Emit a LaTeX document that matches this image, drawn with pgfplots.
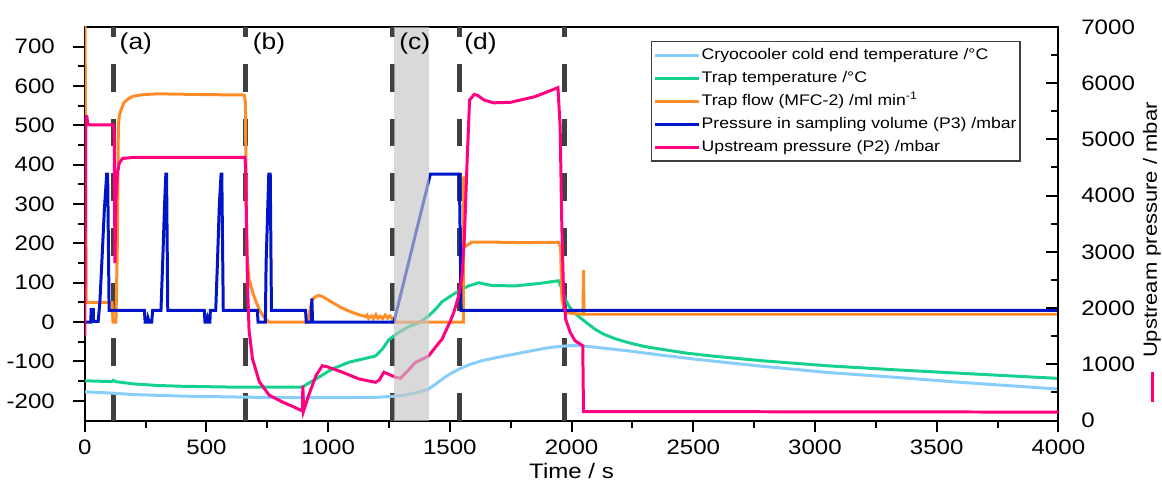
\documentclass[border=0pt]{standalone}
\usepackage{fontspec}
\setmainfont{Liberation Sans}[FakeStretch=1.15]
\usepackage{pgfplots}
\pgfplotsset{compat=1.18}

\definecolor{cCryo}{RGB}{135,206,250}
\definecolor{cTrap}{RGB}{20,210,140}
\definecolor{cFlow}{RGB}{255,140,40}
\definecolor{cPthree}{RGB}{0,20,200}
\definecolor{cPtwo}{RGB}{255,0,128}
\definecolor{cDash}{RGB}{64,64,64}
\definecolor{cBand}{RGB}{197,197,197}

\tikzset{lab/.style={anchor=north west, inner sep=0pt, font=\fontsize{11.5}{14}\selectfont}}

\begin{document}
\begin{tikzpicture}
\pgfplotsset{
  every axis/.append style={
    width=488.5pt, height=197.5pt, scale only axis,
    xmin=0, xmax=4000,
    /pgf/number format/assume math mode=true,
    /pgf/number format/set thousands separator={},
    tick label style={font=\fontsize{10.5}{12}\selectfont},
    label style={font=\fontsize{10.5}{13}\selectfont},
    axis line style={line width=1pt},
    every tick/.style={black, line width=1pt},
    major tick length=6pt, minor tick length=3.5pt,
  },
  dline/.style={cDash, line width=2.5pt, dash pattern=on 14pt off 13.5pt, forget plot},
}
% left axis: temperatures, flow, P3
\begin{axis}[
  ymin=-250, ymax=750,
  xtick={0,500,...,4000}, minor xtick={250,750,...,3750},
  ytick={-200,-100,...,700}, minor ytick={-150,-50,...,650},
  xtick pos=bottom, ytick pos=left, tick align=outside,
  yticklabel style={xshift=-5.5pt},
  xlabel={Time / s},
  xlabel style={at={(axis description cs:0.5,-0.129)}, anchor=center},
]
\coordinate (tl) at (rel axis cs:0,1);
\coordinate (br) at (rel axis cs:1,0);
\addplot[dline] coordinates {(117,-250) (117,750)};
\addplot[dline] coordinates {(659,-250) (659,750)};
\addplot[dline] coordinates {(1263,-250) (1263,750)};
\addplot[dline] coordinates {(1538,-250) (1538,750)};
\addplot[dline] coordinates {(1970,-250) (1970,750)};

% cryocooler cold end temperature
\addplot[cCryo, line width=1.5pt] coordinates {
(0,-177) (100,-180) (200,-184) (400,-188) (600,-190) (800,-192) (1000,-192)
(1200,-191) (1277,-188) (1320,-185) (1358,-180) (1413,-170) (1440,-158)
(1468,-145) (1500,-132) (1536,-120) (1580,-108) (1632,-98) (1700,-89)
(1768,-81) (1850,-71) (1906,-65) (1950,-62) (1988,-60) (2042,-60)
(2100,-64) (2233,-73) (2370,-84) (2506,-94) (2780,-112) (3053,-128)
(3326,-140) (3600,-153) (4000,-170)};

% trap temperature
\addplot[cTrap, line width=1.5pt] coordinates {
(0,-149) (50,-150) (110,-151) (118,-148) (125,-151) (200,-157) (300,-161)
(400,-163) (500,-164) (600,-165) (700,-165) (800,-165) (894,-165) (920,-155)
(948,-145) (1017,-119) (1085,-102) (1140,-94) (1195,-86) (1222,-69)
(1249,-45) (1290,-26) (1330,-12) (1372,-2) (1413,16) (1440,32) (1468,52)
(1500,65) (1536,79) (1577,92) (1618,100) (1640,97) (1673,93) (1768,92)
(1864,98) (1946,105) (1960,85) (1973,60) (1990,40) (2014,22) (2050,4)
(2096,-18) (2130,-30) (2178,-42) (2233,-52) (2300,-62) (2370,-69)
(2475,-79) (2575,-86) (2780,-98) (3053,-111) (3326,-121) (3600,-130)
(4000,-143)};

% trap flow (MFC-2)
\addplot[cFlow, line width=1.5pt] coordinates {
(1,800) (6,50) (112,50) (116,0) (128,0) (134,200) (138,500) (142,525)
(150,540) (160,557) (180,568) (200,574) (240,578) (300,580) (400,579)
(500,578) (655,577) (660,560) (664,250) (668,160) (675,110) (690,75)
(705,50) (716,33) (730,18) (742,8) (757,0) (914,0) (925,30) (935,58)
(950,65) (962,68) (980,64) (1017,50) (1050,38) (1085,28) (1120,20)
(1153,14) (1160,18) (1166,10) (1178,16) (1186,9) (1196,19) (1204,10)
(1214,15) (1224,9) (1234,18) (1244,10) (1254,16) (1263,10) (1265,0)
(1555,0) (1557,370) (1559,190) (1570,195) (1590,203) (1700,203)
(1800,202) (1946,203) (1955,190) (1960,60) (1970,30) (1985,24) (2000,22)
(2047,20) (2049,132) (2051,20) (2100,20) (4000,20)};

% pressure in sampling volume (P3)
\addplot[cPthree, line width=1.5pt] coordinates {
(4,0) (25,0) (26,32) (35,32) (36,2) (55,2) (62,50) (70,150) (80,280)
(90,376) (94,376) (100,30) (245,30) (248,0) (258,0) (260,10) (265,0)
(275,0) (279,30) (313,30) (320,150) (328,300) (333,376) (336,376) (341,30)
(491,30) (494,0) (503,0) (505,10) (510,0) (514,0) (516,30) (538,30)
(545,150) (553,300) (560,376) (563,376) (569,30) (709,30) (712,0) (742,0)
(745,150) (756,376) (762,376) (767,30) (907,30) (910,0) (930,0) (933,60)
(936,0) (1270,0) (1420,376) (1539,376) (1546,30) (4000,30)};
\end{axis}

% right axis: upstream pressure
\begin{axis}[
  ymin=0, ymax=7000,
  axis x line=none, axis y line*=right,
  ytick={0,1000,...,7000}, minor ytick={500,1500,...,6500},
  ytick pos=right, tick align=inside,
  yticklabel style={xshift=8pt},
  ylabel={\textcolor{cPtwo}{\rule[0.3ex]{15pt}{1.5pt}}\hspace{7pt}Upstream pressure / mbar},
  ylabel style={at={(axis description cs:1.0962,0.428)}, anchor=center,
    inner sep=0pt, font=\fontsize{9.6}{12}\selectfont},
  legend style={at={(1,1)}, anchor=north east, xshift=-19pt, yshift=-7pt,
    font=\fontsize{7.7}{9}\selectfont, draw=black!75, line width=0.75pt,
    inner xsep=1pt, inner ysep=2.5pt, row sep=2.5pt,
    nodes={inner sep=0.6pt, text height=6pt, text depth=1.8pt},
    cells={anchor=west}},
  legend image code/.code={\draw[#1] (0pt,0pt) -- (20pt,0pt);
    \path (0pt,0pt) -- (22pt,0pt);},
]
\addlegendimage{cCryo, line width=1.5pt}
\addlegendentry{Cryocooler cold end temperature /°C}
\addlegendimage{cTrap, line width=1.5pt}
\addlegendentry{Trap temperature /°C}
\addlegendimage{cFlow, line width=1.5pt}
\addlegendentry{Trap flow (MFC-2) /ml min\textsuperscript{-1}}
\addlegendimage{cPthree, line width=1.5pt}
\addlegendentry{Pressure in sampling volume (P3) /mbar}

\addplot[cPtwo, line width=1.5pt] coordinates {
(0,1500) (4,5200) (8,5430) (12,5280) (20,5260) (60,5260) (118,5260)
(121,5100) (124,2800) (128,3900) (134,4400) (142,4580) (155,4660)
(200,4680) (400,4680) (600,4680) (658,4680) (661,4500) (668,2500)
(675,1600) (689,1100) (717,690) (758,450) (812,330) (860,240) (894,170)
(896,620) (899,170) (920,450) (950,800) (976,975) (1000,950) (1058,860)
(1126,740) (1195,680) (1210,720) (1229,860) (1250,820) (1277,770)
(1297,750) (1330,900) (1358,1030) (1390,1100) (1413,1150) (1440,1300)
(1468,1450) (1500,1750) (1516,1920) (1535,2200) (1550,2570) (1560,3300)
(1570,4520) (1581,5700) (1600,5800) (1615,5780) (1640,5700) (1680,5650)
(1750,5660) (1850,5760) (1944,5920) (1953,5230) (1960,3450) (1967,2280)
(1976,1800) (1994,1570) (2014,1420) (2046,1330) (2049,160) (4000,150)};
\addlegendentry{Upstream pressure (P2) /mbar}

% shaded interval (c)
\addplot[fill=cBand, draw=none, fill opacity=0.65, forget plot]
  coordinates {(1270,0) (1415,0) (1415,7000) (1270,7000)} -- cycle;

\node[lab] at (axis cs:142,6895) {(a)};
\node[lab] at (axis cs:689,6895) {(b)};
\node[lab] at (axis cs:1291,6895) {(c)};
\node[lab] at (axis cs:1558,6895) {(d)};
\end{axis}
% page margins as in the reference
\path (tl) ++(-41pt,13.5pt);
\path (br) ++(52pt,-35pt);
\end{tikzpicture}
\end{document}
